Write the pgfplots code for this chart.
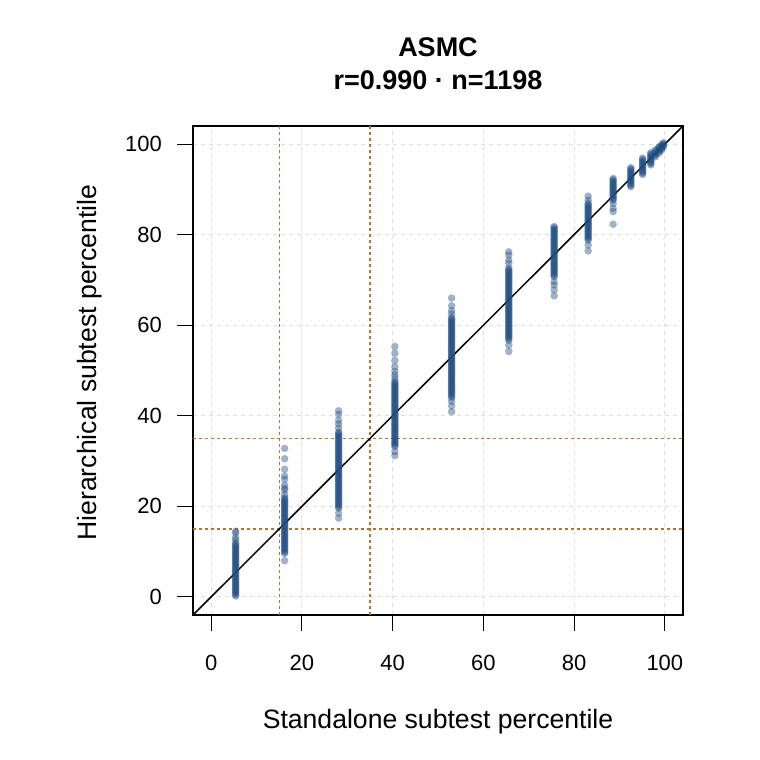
\documentclass[border=0pt]{standalone}
\usepackage{fontspec}
\setmainfont{Liberation Sans}
\usepackage{pgfplots}
\pgfplotsset{compat=1.18}
\definecolor{dotblue}{RGB}{30,75,130}
\definecolor{refor}{RGB}{185,115,40}
\definecolor{gridgray}{RGB}{222,222,222}
\begin{document}
\begin{tikzpicture}
\begin{axis}[
  scale only axis, width=245pt, height=244.5pt,
  xmin=-4, xmax=104, ymin=-4, ymax=104,
  xtick={0,20,...,100}, ytick={0,20,...,100},
  tick pos=left, tick align=outside, major tick length=8pt,
  grid=major,
  major grid style={gridgray, dash pattern=on 2pt off 2pt, line width=0.5pt},
  tick style={black, line width=0.5pt},
  axis line style={line width=0.6pt},
  /pgf/number format/assume math mode=true,
  ticklabel style={font=\fontsize{11}{13}\selectfont},
  xticklabel style={yshift=-8.5pt},
  yticklabel style={xshift=-4pt},
]
\addplot[refor, dash pattern=on 1.5pt off 1.5pt, line width=0.7pt] coordinates {(15,-4)(15,104)};
\addplot[refor, dash pattern=on 1.5pt off 1.5pt, line width=0.7pt] coordinates {(35,-4)(35,104)};
\addplot[refor, dash pattern=on 1.5pt off 1.5pt, line width=0.7pt] coordinates {(-4,15)(104,15)};
\addplot[refor, dash pattern=on 1.5pt off 1.5pt, line width=0.7pt] coordinates {(-4,35)(104,35)};
\addplot[only marks, mark=*, mark size=1.9pt, mark options={fill=dotblue, fill opacity=0.42, draw opacity=0}] coordinates {
(5.4,0.2)(5.4,0.5)(5.4,0.8)(5.4,1.1)(5.4,1.4)(5.4,1.7)(5.4,2.0)(5.4,2.3)(5.4,2.6)(5.4,2.9)(5.4,3.2)(5.4,3.5)(5.4,3.8)(5.4,4.1)(5.4,4.4)(5.4,4.7)(5.4,5.0)(5.4,5.3)(5.4,5.6)(5.4,5.9)(5.4,6.2)(5.4,6.5)(5.4,6.8)(5.4,7.1)(5.4,7.4)(5.4,7.7)(5.4,8.0)(5.4,8.3)(5.4,8.6)(5.4,8.9)(5.4,9.2)(5.4,9.5)(5.4,9.8)(5.4,10.1)(5.4,10.4)(5.4,10.7)(5.4,11.0)(5.4,11.3)(5.4,11.6)(5.4,11.9)(5.4,12.6)(5.4,13.1)(5.4,14.1)(5.4,14.5)
(16.2,8.0)(16.2,9.6)(16.2,9.9)(16.2,10.2)(16.2,10.5)(16.2,10.8)(16.2,11.1)(16.2,11.4)(16.2,11.7)(16.2,12.0)(16.2,12.3)(16.2,12.6)(16.2,12.9)(16.2,13.2)(16.2,13.5)(16.2,13.8)(16.2,14.1)(16.2,14.4)(16.2,14.7)(16.2,15.0)(16.2,15.3)(16.2,15.6)(16.2,15.9)(16.2,16.2)(16.2,16.5)(16.2,16.8)(16.2,17.1)(16.2,17.4)(16.2,17.7)(16.2,18.0)(16.2,18.3)(16.2,18.6)(16.2,18.9)(16.2,19.2)(16.2,19.5)(16.2,19.8)(16.2,20.1)(16.2,20.4)(16.2,20.7)(16.2,21.0)(16.2,21.3)(16.2,21.6)(16.2,21.9)(16.2,22.6)(16.2,23.6)(16.2,24.0)(16.2,24.7)(16.2,26.0)(16.2,26.7)(16.2,28.2)(16.2,30.5)(16.2,32.8)
(28.1,17.4)(28.1,18.5)(28.1,19.6)(28.1,19.9)(28.1,20.2)(28.1,20.5)(28.1,20.8)(28.1,21.1)(28.1,21.4)(28.1,21.7)(28.1,22.0)(28.1,22.3)(28.1,22.6)(28.1,22.9)(28.1,23.2)(28.1,23.5)(28.1,23.8)(28.1,24.1)(28.1,24.4)(28.1,24.7)(28.1,25.0)(28.1,25.3)(28.1,25.6)(28.1,25.9)(28.1,26.2)(28.1,26.5)(28.1,26.8)(28.1,27.1)(28.1,27.4)(28.1,27.7)(28.1,28.0)(28.1,28.3)(28.1,28.6)(28.1,28.9)(28.1,29.2)(28.1,29.5)(28.1,29.8)(28.1,30.1)(28.1,30.4)(28.1,30.7)(28.1,31.0)(28.1,31.3)(28.1,31.6)(28.1,31.9)(28.1,32.2)(28.1,32.5)(28.1,32.8)(28.1,33.1)(28.1,33.4)(28.1,33.7)(28.1,34.0)(28.1,34.3)(28.1,34.6)(28.1,34.9)(28.1,35.2)(28.1,35.5)(28.1,35.8)(28.1,36.1)(28.1,36.4)(28.1,37.3)(28.1,38.2)(28.1,39.0)(28.1,40.3)(28.1,41.1)
(40.5,31.2)(40.5,32.1)(40.5,33.2)(40.5,33.5)(40.5,33.8)(40.5,34.1)(40.5,34.4)(40.5,34.7)(40.5,35.0)(40.5,35.3)(40.5,35.6)(40.5,35.9)(40.5,36.2)(40.5,36.5)(40.5,36.8)(40.5,37.1)(40.5,37.4)(40.5,37.7)(40.5,38.0)(40.5,38.3)(40.5,38.6)(40.5,38.9)(40.5,39.2)(40.5,39.5)(40.5,39.8)(40.5,40.1)(40.5,40.4)(40.5,40.7)(40.5,41.0)(40.5,41.3)(40.5,41.6)(40.5,41.9)(40.5,42.2)(40.5,42.5)(40.5,42.8)(40.5,43.1)(40.5,43.4)(40.5,43.7)(40.5,44.0)(40.5,44.3)(40.5,44.6)(40.5,44.9)(40.5,45.2)(40.5,45.5)(40.5,45.8)(40.5,46.1)(40.5,46.4)(40.5,46.7)(40.5,47.0)(40.5,47.3)(40.5,47.6)(40.5,48.3)(40.5,49.0)(40.5,49.8)(40.5,50.8)(40.5,52.2)(40.5,53.8)(40.5,55.3)
(53.0,40.9)(53.0,42.2)(53.0,43.2)(53.0,44.0)(53.0,44.3)(53.0,44.6)(53.0,44.9)(53.0,45.2)(53.0,45.5)(53.0,45.8)(53.0,46.1)(53.0,46.4)(53.0,46.7)(53.0,47.0)(53.0,47.3)(53.0,47.6)(53.0,47.9)(53.0,48.2)(53.0,48.5)(53.0,48.8)(53.0,49.1)(53.0,49.4)(53.0,49.7)(53.0,50.0)(53.0,50.3)(53.0,50.6)(53.0,50.9)(53.0,51.2)(53.0,51.5)(53.0,51.8)(53.0,52.1)(53.0,52.4)(53.0,52.7)(53.0,53.0)(53.0,53.3)(53.0,53.6)(53.0,53.9)(53.0,54.2)(53.0,54.5)(53.0,54.8)(53.0,55.1)(53.0,55.4)(53.0,55.7)(53.0,56.0)(53.0,56.3)(53.0,56.6)(53.0,56.9)(53.0,57.2)(53.0,57.5)(53.0,57.8)(53.0,58.1)(53.0,58.4)(53.0,58.7)(53.0,59.0)(53.0,59.3)(53.0,59.6)(53.0,59.9)(53.0,60.2)(53.0,60.5)(53.0,60.8)(53.0,61.1)(53.0,61.4)(53.0,61.7)(53.0,62.5)(53.0,63.2)(53.0,64.3)(53.0,66.0)
(65.6,54.2)(65.6,55.6)(65.6,56.7)(65.6,57.0)(65.6,57.3)(65.6,57.6)(65.6,57.9)(65.6,58.2)(65.6,58.5)(65.6,58.8)(65.6,59.1)(65.6,59.4)(65.6,59.7)(65.6,60.0)(65.6,60.3)(65.6,60.6)(65.6,60.9)(65.6,61.2)(65.6,61.5)(65.6,61.8)(65.6,62.1)(65.6,62.4)(65.6,62.7)(65.6,63.0)(65.6,63.3)(65.6,63.6)(65.6,63.9)(65.6,64.2)(65.6,64.5)(65.6,64.8)(65.6,65.1)(65.6,65.4)(65.6,65.7)(65.6,66.0)(65.6,66.3)(65.6,66.6)(65.6,66.9)(65.6,67.2)(65.6,67.5)(65.6,67.8)(65.6,68.1)(65.6,68.4)(65.6,68.7)(65.6,69.0)(65.6,69.3)(65.6,69.6)(65.6,69.9)(65.6,70.2)(65.6,70.5)(65.6,70.8)(65.6,71.1)(65.6,71.4)(65.6,71.7)(65.6,72.0)(65.6,72.3)(65.6,72.6)(65.6,73.7)(65.6,74.4)(65.6,75.5)(65.6,76.2)
(75.6,66.5)(75.6,67.8)(75.6,68.9)(75.6,69.6)(75.6,70.7)(75.6,71.0)(75.6,71.3)(75.6,71.6)(75.6,71.9)(75.6,72.2)(75.6,72.5)(75.6,72.8)(75.6,73.1)(75.6,73.4)(75.6,73.7)(75.6,74.0)(75.6,74.3)(75.6,74.6)(75.6,74.9)(75.6,75.2)(75.6,75.5)(75.6,75.8)(75.6,76.1)(75.6,76.4)(75.6,76.7)(75.6,77.0)(75.6,77.3)(75.6,77.6)(75.6,77.9)(75.6,78.2)(75.6,78.5)(75.6,78.8)(75.6,79.1)(75.6,79.4)(75.6,79.7)(75.6,80.0)(75.6,80.3)(75.6,80.6)(75.6,80.9)(75.6,81.2)(75.6,81.5)(75.6,81.8)
(83.1,76.4)(83.1,77.7)(83.1,78.8)(83.1,79.1)(83.1,79.4)(83.1,79.7)(83.1,80.0)(83.1,80.3)(83.1,80.6)(83.1,80.9)(83.1,81.2)(83.1,81.5)(83.1,81.8)(83.1,82.1)(83.1,82.4)(83.1,82.7)(83.1,83.0)(83.1,83.3)(83.1,83.6)(83.1,83.9)(83.1,84.2)(83.1,84.5)(83.1,84.8)(83.1,85.1)(83.1,85.4)(83.1,85.7)(83.1,86.0)(83.1,86.3)(83.1,86.6)(83.1,86.9)(83.1,87.6)(83.1,88.5)
(88.6,82.3)(88.6,85.1)(88.6,85.8)(88.6,86.9)(88.6,87.6)(88.6,87.9)(88.6,88.2)(88.6,88.5)(88.6,88.8)(88.6,89.1)(88.6,89.4)(88.6,89.7)(88.6,90.0)(88.6,90.3)(88.6,90.6)(88.6,90.9)(88.6,91.2)(88.6,91.5)(88.6,91.8)(88.6,92.1)(88.6,92.4)
(92.5,90.6)(92.5,90.9)(92.5,91.2)(92.5,91.5)(92.5,91.8)(92.5,92.1)(92.5,92.4)(92.5,92.7)(92.5,93.0)(92.5,93.3)(92.5,93.6)(92.5,93.9)(92.5,94.2)(92.5,94.5)(92.5,94.8)
(95.1,93.3)(95.1,93.6)(95.1,93.9)(95.1,94.2)(95.1,94.5)(95.1,94.8)(95.1,95.1)(95.1,95.4)(95.1,95.7)(95.1,96.0)(95.1,96.3)(95.1,96.6)(95.1,96.9)
(96.9,95.4)(96.9,95.7)(96.9,96.0)(96.9,96.3)(96.9,96.6)(96.9,96.9)(96.9,97.2)(96.9,97.5)(96.9,97.8)(96.9,98.1)
(97.9,97.2)(97.9,97.5)(97.9,97.8)(97.9,98.1)(97.9,98.4)(97.9,98.7)
(98.7,98.0)(98.7,98.3)(98.7,98.6)(98.7,98.9)(98.7,99.2)(98.7,99.4)
(99.3,98.7)(99.3,99.0)(99.3,99.3)(99.3,99.6)(99.3,99.9)
(99.7,99.4)(99.7,99.7)(99.7,100.0)(99.7,100.3)
};
\addplot[black, line width=0.75pt] coordinates {(-4,-4)(104,104)};
\end{axis}
\node[font=\fontsize{13.3}{15}\selectfont] at ([yshift=-53.5pt]current axis.south) {Standalone subtest percentile};
\node[rotate=90, font=\fontsize{13.3}{15}\selectfont] at ([xshift=-51.5pt,yshift=4pt]current axis.west) {Hierarchical subtest percentile};
\node[font=\bfseries\fontsize{13.5}{16}\selectfont] at ([yshift=39.5pt]current axis.north) {ASMC};
\node[font=\bfseries\fontsize{13.5}{16}\selectfont] at ([yshift=23pt]current axis.north) {r=0.990 · n=1198};
\pgfresetboundingbox
\path[use as bounding box] ([xshift=-96.5pt,yshift=-72.5pt]current axis.south west) rectangle ([xshift=38.5pt,yshift=63pt]current axis.north east);
\end{tikzpicture}
\end{document}
